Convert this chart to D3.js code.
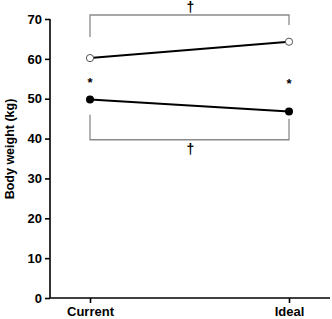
<!DOCTYPE html>
<html><head><meta charset="utf-8">
<script src="https://cdn.jsdelivr.net/npm/d3@7"></script>
<style>body{margin:0;background:#fff}svg{display:block}text{font-family:"Liberation Sans",Arial,sans-serif}</style>
</head><body>
<svg id="c" width="332" height="319"></svg>
<script>
const categories = ["Current", "Ideal"];
const openSeries = [60.2, 64.3];
const filledSeries = [49.8, 46.8];
const yTicks = [0, 10, 20, 30, 40, 50, 60, 70];
const yLabel = "Body weight (kg)";
const asteriskValues = [54.6, 54.4];
const topBracket = {y: 71, left: 65.5, right: 68.5, label: "†"};
const bottomBracket = {y: 39.7, left: 46, right: 45, label: "†"};

const svg = d3.select("#c");
const y = d3.scaleLinear().domain([0, 70]).range([298, 19]);
const x = d3.scalePoint().domain(categories).range([90, 289]);

// axes
const ya = svg.append("g").attr("transform", "translate(50,0)")
  .call(d3.axisLeft(y).tickValues(yTicks).tickSize(5).tickPadding(3));
ya.select(".domain").attr("stroke", "#000").attr("stroke-width", 1.6).attr("d", `M0,${y(70)}V${y(0)}`);
ya.selectAll(".tick line").attr("stroke", "#000").attr("stroke-width", 1.6);
ya.selectAll(".tick text").attr("font-size", 13).attr("font-weight", "bold").attr("fill", "#000");

const xa = svg.append("g").attr("transform", `translate(0,${y(0)})`)
  .call(d3.axisBottom(x).tickSize(5).tickPadding(4));
xa.select(".domain").attr("stroke", "#000").attr("stroke-width", 1.6).attr("d", "M50,0H330");
xa.selectAll(".tick line").attr("stroke", "#000").attr("stroke-width", 1.6);
xa.selectAll(".tick text").attr("font-size", 13).attr("font-weight", "bold").attr("fill", "#000");

svg.append("text").attr("transform", `translate(14,${149}) rotate(-90)`)
  .attr("text-anchor", "middle").attr("font-size", 12.5).attr("font-weight", "bold").text(yLabel);

// brackets
const gray = "#8a8a8a";
function bracket(b, up) {
  const x0 = x(categories[0]), x1 = x(categories[1]);
  svg.append("path").attr("fill", "none").attr("stroke", gray).attr("stroke-width", 1.3)
    .attr("d", `M${x0},${y(b.left)}V${y(b.y)}H${x1}V${y(b.right)}`);
  svg.append("text").attr("x", (x0 + x1) / 2 + 1).attr("y", up ? y(b.y) - 3 : y(b.y) + 14)
    .attr("text-anchor", "middle").attr("font-size", 14).attr("font-weight", "bold").text(b.label);
}
bracket(topBracket, true);
bracket(bottomBracket, false);

// lines
const line = d3.line().x((d, i) => x(categories[i])).y(d => y(d));
svg.append("path").datum(openSeries).attr("fill", "none").attr("stroke", "#000").attr("stroke-width", 2).attr("d", line);
svg.append("path").datum(filledSeries).attr("fill", "none").attr("stroke", "#000").attr("stroke-width", 2).attr("d", line);

svg.selectAll(".o").data(openSeries).enter().append("circle")
  .attr("cx", (d, i) => x(categories[i])).attr("cy", d => y(d)).attr("r", 3.6)
  .attr("fill", "#fff").attr("stroke", "#555").attr("stroke-width", 1);
svg.selectAll(".f").data(filledSeries).enter().append("circle")
  .attr("cx", (d, i) => x(categories[i])).attr("cy", d => y(d)).attr("r", 4)
  .attr("fill", "#000");

svg.selectAll(".a").data(asteriskValues).enter().append("text")
  .attr("x", (d, i) => x(categories[i])).attr("y", d => y(d) + 7)
  .attr("text-anchor", "middle").attr("font-size", 13).attr("font-weight", "bold").text("*");
</script>
</body></html>
